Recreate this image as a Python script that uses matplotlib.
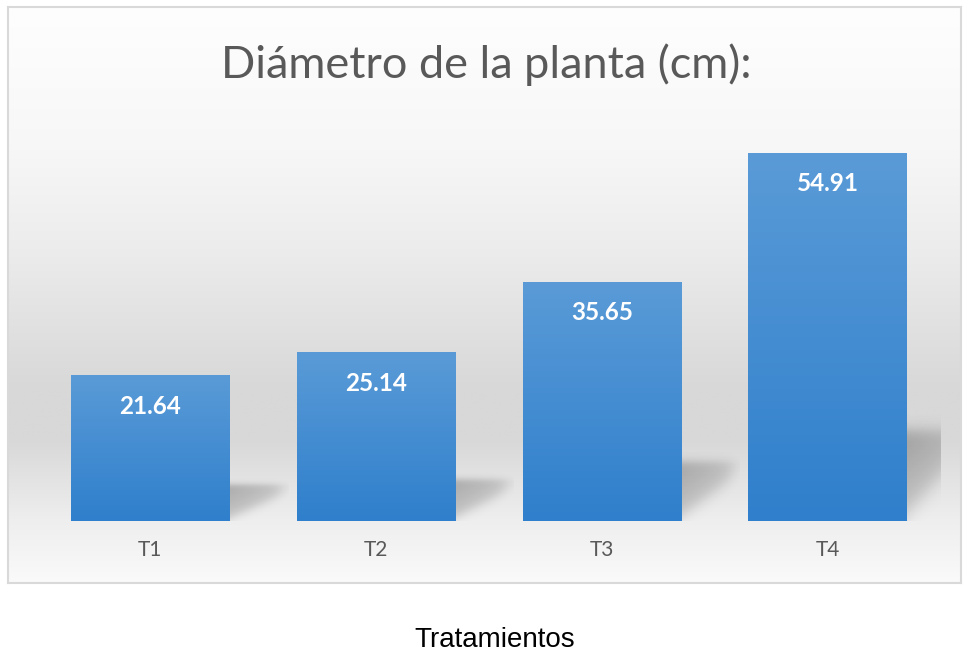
import numpy as np
import matplotlib
matplotlib.use("Agg")
import matplotlib.pyplot as plt
from matplotlib.colors import LinearSegmentedColormap

# data
categories = ["T1", "T2", "T3", "T4"]
values = [21.64, 25.14, 35.65, 54.91]
title = "Diámetro de la planta (cm):"
x_title = "Tratamientos"

W, H = 963, 654
fig = plt.figure(figsize=(W / 100, H / 100), dpi=100)
fig.patch.set_facecolor("white")


def fx(px):
    return px / W


def fy(py):
    return 1 - py / H


# chart box with vertical grey gradient
box_l, box_r, box_t, box_b = 8, 961, 7, 583
bg = fig.add_axes([fx(box_l), fy(box_b), fx(box_r - box_l), (box_b - box_t) / H])
stops_px = np.array([box_t, 150, 250, 390, 440, 520, box_b])
stops_gray = np.array([254, 247, 236, 216, 216, 238, 250]) / 255
rows = np.linspace(box_t, box_b, 400)
grad = np.interp(rows, stops_px, stops_gray)
bg.imshow(np.repeat(grad[:, None], 2, axis=1)[:, :, None].repeat(3, axis=2),
          aspect="auto", extent=[0, 1, 0, 1], interpolation="bilinear")
bg.set_xticks([])
bg.set_yticks([])
for sp in bg.spines.values():
    sp.set_color("#d9d9d9")
    sp.set_linewidth(1.5)

# plot area
ax_l, ax_r, base_y = 37.5, 940.5, 521
ymax = 60
px_per_unit = 368 / 54.91
ax = fig.add_axes([fx(ax_l), fy(base_y), fx(ax_r - ax_l), ymax * px_per_unit / H])
ax.set_facecolor("none")
x = np.arange(len(categories))
bars = ax.bar(x, values, width=0.703, color="none", zorder=3)

bar_cmap = LinearSegmentedColormap.from_list("bar", ["#2f7fcc", "#5a9bd7"])
shadow_w = 0.26
for rect, v in zip(bars, values):
    x0, w = rect.get_x(), rect.get_width()
    # soft perspective shadow behind the bar
    xr = x0 + w
    sh = 0.29 * v
    nx, ny = 120, 120
    uu, vv = np.meshgrid(np.linspace(0, 1, nx), np.linspace(0, 1, ny))
    sig = lambda z: 1 / (1 + np.exp(-z))
    lower = 0.06 + 0.62 * uu
    a = (0.27 * sig((0.85 - vv) / 0.04) * sig((vv - lower) / 0.07)
         * sig((0.9 - uu) / 0.08) * (1 - 0.45 * uu) * (0.6 + 0.4 * vv))
    rgba = np.zeros((ny, nx, 4))
    rgba[..., 3] = a
    ax.imshow(rgba, extent=[xr, xr + shadow_w, 0, sh], origin="lower",
              aspect="auto", zorder=1, interpolation="bilinear")
    # gradient fill of the bar
    g = np.linspace(0, 1, 256)[:, None]
    ax.imshow(g, extent=[x0, x0 + w, 0, v], origin="lower", cmap=bar_cmap,
              aspect="auto", zorder=2, interpolation="bilinear")
    ax.annotate(f"{v:.2f}", (x0 + w / 2, v), xytext=(0, -22),
                textcoords="offset points", ha="center", va="center",
                color="white", fontsize=17.5, fontweight="bold", family="Lato",
                zorder=5)

ax.set_xlim(-0.5, len(categories) - 0.5)
ax.set_ylim(0, ymax)
ax.set_xticks(x)
ax.set_xticklabels(categories, family="Lato", fontsize=15, color="#595959")
ax.tick_params(axis="x", length=0, pad=14)
ax.set_yticks([])
for sp in ax.spines.values():
    sp.set_visible(False)

fig.text(fx(486), fy(78), title, ha="center", va="baseline",
         family="Lato", fontsize=32.5, color="#595959")
fig.text(fx(495), fy(647), x_title, ha="center", va="baseline",
         family="Liberation Sans", fontsize=20, color="black")

fig.savefig("out.png", dpi=100)
